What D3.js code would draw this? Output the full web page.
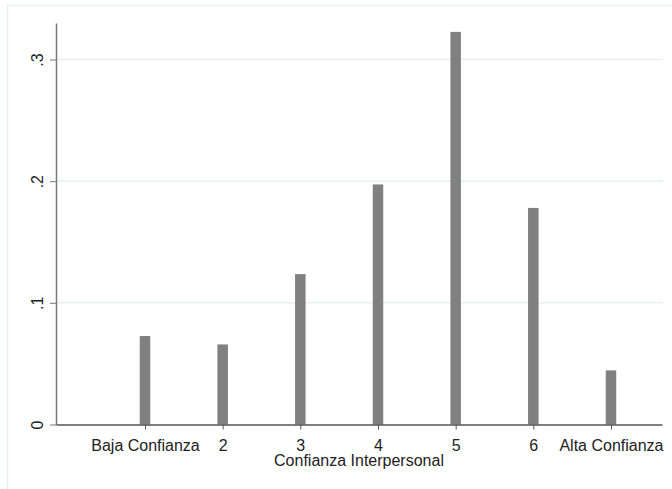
<!DOCTYPE html>
<html>
<head>
<meta charset="utf-8">
<script src="https://cdn.jsdelivr.net/npm/d3@7"></script>
<style>
  body { margin: 0; background: #fff; }
  svg { display: block; font-family: "Liberation Sans", Arial, sans-serif; }
</style>
</head>
<body>
<div class="chart"></div>
<script>
var width = 672;
var height = 489;

// data
var categories = [1, 2, 3, 4, 5, 6, 7];
var shares = [0.0727, 0.0658, 0.1236, 0.1973, 0.3227, 0.178, 0.0445];
var xTickLabels = ["Baja Confianza", "2", "3", "4", "5", "6", "Alta Confianza"];
var yTicks = [0, 0.1, 0.2, 0.3];
var yTickLabels = ["0", ".1", ".2", ".3"];

var svg = d3.select(".chart").append("svg")
    .attr("width", width)
    .attr("height", height);

// light outer frame of the graph region (runs off the right and bottom)
svg.append("rect")
    .attr("x", 7.5)
    .attr("y", 5.5)
    .attr("width", 700)
    .attr("height", 520)
    .attr("fill", "none")
    .attr("stroke", "#e8efef")
    .attr("stroke-width", 1.5);

var x = d3.scaleLinear()
    .domain([-0.146, 7.657])
    .range([56, 662]);

var y = d3.scaleLinear()
    .domain([0, 0.33])
    .range([424.5, 23]);

// gridlines
svg.append("g")
  .selectAll("line")
  .data(yTicks.slice(1))
  .join("line")
    .attr("x1", 56)
    .attr("x2", 663)
    .attr("y1", function(d) { return y(d); })
    .attr("y2", function(d) { return y(d); })
    .attr("stroke", "#e6f0f0")
    .attr("stroke-width", 1.5);

// bars
var barW = 10.5;
svg.append("g")
  .selectAll("rect")
  .data(shares)
  .join("rect")
    .attr("x", function(d, i) { return x(categories[i]) - barW / 2; })
    .attr("y", function(d) { return y(d); })
    .attr("width", barW)
    .attr("height", function(d) { return y(0) - y(d); })
    .attr("fill", "#808080");

// y axis
var yAxis = svg.append("g")
    .attr("transform", "translate(56,0)")
    .call(d3.axisLeft(y)
      .tickValues(yTicks)
      .tickFormat(function(d, i) { return yTickLabels[i]; })
      .tickSize(6)
      .tickSizeOuter(0));

yAxis.select(".domain").attr("stroke", "#7a7a7a").attr("stroke-width", 1.5);
yAxis.selectAll(".tick line").attr("stroke", "#7a7a7a");
yAxis.selectAll(".tick text")
    .attr("x", null)
    .attr("dy", null)
    .attr("text-anchor", "middle")
    .attr("transform", "translate(-13,0) rotate(-90)")
    .attr("font-size", 16)
    .attr("font-family", "Liberation Sans, Arial, sans-serif")
    .attr("fill", "#222");

// x axis
var xAxis = svg.append("g")
    .attr("transform", "translate(0," + y(0) + ")")
    .call(d3.axisBottom(x)
      .tickValues(categories)
      .tickFormat(function(d, i) { return xTickLabels[i]; })
      .tickSize(5)
      .tickPadding(10)
      .tickSizeOuter(0));

xAxis.select(".domain").attr("stroke", "#555").attr("stroke-width", 1.5);
xAxis.selectAll(".tick line").attr("stroke", "#555");
xAxis.selectAll(".tick text")
    .attr("font-size", 16)
    .attr("font-family", "Liberation Sans, Arial, sans-serif")
    .attr("fill", "#222");

// axis title
svg.append("text")
    .attr("x", (x.range()[0] + x.range()[1]) / 2)
    .attr("y", 466)
    .attr("text-anchor", "middle")
    .attr("font-size", 16)
    .attr("fill", "#222")
    .text("Confianza Interpersonal");
</script>
</body>
</html>
